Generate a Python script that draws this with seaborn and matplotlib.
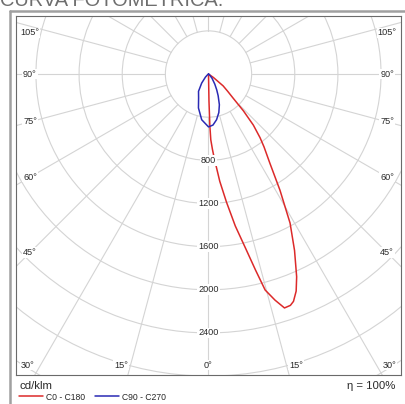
import numpy as np
import pandas as pd
import matplotlib.pyplot as plt
from matplotlib.lines import Line2D
import seaborn as sns

# C0 - C180 plane (cd/klm), gamma measured from nadir towards C0
c0_gamma = [0, 1, 1.5, 2, 3, 4, 6, 8, 10, 12, 13.5, 14.7, 16.4, 18, 19.5, 20.5, 22, 23.5,
            26, 28.7, 31.6, 34.6, 37.3, 39, 41.3, 43.5, 45.6, 48, 51, 55, 60]
c0_cd = [0, 250, 480, 610, 700, 790, 1000, 1200, 1430, 1650, 1870, 2070, 2185, 2280, 2275, 2250,
         2170, 2050, 1820, 1575, 1265, 1000, 850, 760, 630, 470, 320, 240, 175, 55, 0]

# C90 - C270 plane, negative gamma = C270 side
c90_gamma = [-60, -50, -45, -37, -30, -22.5, -16.5, -8.5, 0, 5, 10, 15, 19.5, 24, 27.5, 32, 40, 50, 60]
c90_cd = [0, 15, 40, 105, 185, 240, 328, 428, 490, 475, 430, 370, 302, 220, 165, 110, 50, 12, 0]

ring_values = [400, 800, 1200, 1600, 2000, 2400, 2800, 3200, 3600]
ring_labels = [800, 1200, 1600, 2000, 2400]
spoke_angles = list(range(0, 360, 15))
side_labels = [45, 60, 75, 90, 105]
bottom_labels = [0, 15, 30]


def polar_df(gamma, cd, name):
    g = np.radians(gamma)
    cd = np.asarray(cd, dtype=float)
    return pd.DataFrame({"x": cd * np.sin(g), "y": -cd * np.cos(g), "curve": name})


df = pd.concat([polar_df(c0_gamma, c0_cd, "C0 - C180"),
                polar_df(c90_gamma, c90_cd, "C90 - C270")], ignore_index=True)

sns.set_style("white")
plt.rcParams["font.family"] = ["Liberation Sans", "DejaVu Sans"]

W, H = 406, 404
fig = plt.figure(figsize=(W / 100, H / 100), dpi=100)
ax = fig.add_axes([16 / W, (H - 375) / H, 385 / W, 359 / H])

XLIM = 1785
YTOP, YBOT = 538, -2790
CD_PX = 9.27  # cd per pixel
grid_col = "#d4d4d4"

# polar grid
for r in ring_values:
    ax.add_patch(plt.Circle((0, 0), r, fill=False, ec=grid_col, lw=0.8, zorder=1))
for a in spoke_angles:
    t = np.radians(a)
    ax.plot([400 * np.sin(t), 6000 * np.sin(t)], [-400 * np.cos(t), -6000 * np.cos(t)],
            color=grid_col, lw=0.8, zorder=1)

sns.lineplot(data=df, x="x", y="y", hue="curve", sort=False, estimator=None,
             palette={"C0 - C180": "#dc2a2a", "C90 - C270": "#2a2ab4"},
             lw=1.1, ax=ax, zorder=3)

ax.set_xlim(-XLIM, XLIM)
ax.set_ylim(YBOT, YTOP)
ax.set_xticks([])
ax.set_yticks([])
ax.set_xlabel("")
ax.set_ylabel("")
for s in ax.spines.values():
    s.set_color("#6a6a6a")
    s.set_linewidth(0.8)

box = dict(facecolor="white", edgecolor="none", pad=0.6)
txt = "#2a2a2a"

# intensity labels along the 0° spoke
for v in ring_labels:
    ax.text(0, -v, str(v), ha="center", va="center", fontsize=6.6, color=txt, bbox=box, zorder=4)

# angle labels on left / right frame sides
xin = XLIM - 14 * CD_PX
ytop_in = YTOP - 17 * CD_PX
for a in side_labels:
    t = np.radians(a)
    y = -xin / np.tan(t) if a != 90 else 0
    y = min(y, ytop_in)
    for sx in (-1, 1):
        ax.text(sx * xin, y, f"{a}°", ha="center", va="center", fontsize=6.6,
                color=txt, bbox=box, zorder=4)

# angle labels along the bottom
ybot_in = YBOT + 10 * CD_PX
for a in bottom_labels:
    xs = -YBOT * np.tan(np.radians(a))
    if a == 0:
        ax.text(0, ybot_in, "0°", ha="center", va="center", fontsize=6.6, color=txt, bbox=box, zorder=4)
    else:
        ax.text(xs, ybot_in, f"{a}°", ha="left", va="center", fontsize=6.6, color=txt, bbox=box, zorder=4)
        ax.text(-xs, ybot_in, f"{a}°", ha="right", va="center", fontsize=6.6, color=txt, bbox=box, zorder=4)

sns.move_legend(ax, "center left", bbox_to_anchor=(19 / W, 7 / H), bbox_transform=fig.transFigure,
                ncol=2, frameon=False, title=None, fontsize=6.2, handlelength=2.8,
                handletextpad=0.35, columnspacing=1.1, borderpad=0, borderaxespad=0)

fig.text(20 / W, (H - 386) / H, "cd/klm", ha="left", va="center", fontsize=8.2, color=txt)
fig.text(395 / W, (H - 386) / H, "η = 100%", ha="right", va="center", fontsize=8.2, color=txt)

# page title, cut by the top edge
fig.text(0, 1 - 6 / H, "CURVA FOTOMÉTRICA:", ha="left", va="baseline", fontsize=14.4, color="#6e6e6e")

# outer gray border
fig.add_artist(Line2D([10.5 / W, 10.5 / W], [0, 1 - 10.5 / H], transform=fig.transFigure,
                      color="#a0a0a0", lw=1.8))
fig.add_artist(Line2D([10.5 / W, 1], [1 - 10.5 / H, 1 - 10.5 / H], transform=fig.transFigure,
                      color="#a0a0a0", lw=1.8))

fig.savefig("out.png", dpi=100)
